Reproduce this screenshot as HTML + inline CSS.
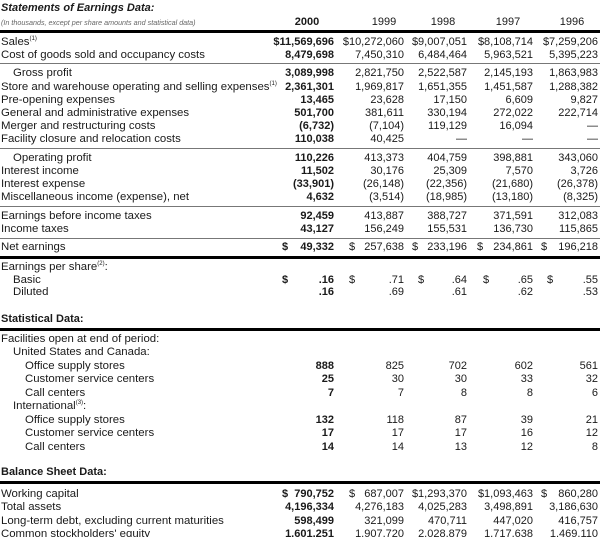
<!DOCTYPE html>
<html><head><meta charset="utf-8">
<style>
html,body{margin:0;padding:0;background:#fff;}
#root{position:relative;width:600px;height:537px;overflow:hidden;font-family:"Liberation Sans",Arial,sans-serif;font-size:11px;color:#1a1a1a;}
.t{position:absolute;line-height:14px;white-space:nowrap;}
.lab{font-size:11.4px;}
.r{text-align:right;}
.b{font-weight:bold;}
.ln{position:absolute;left:0;width:600px;}
.thick{height:3px;background:#000;}
.thin{height:1px;background:#777;}
sup{font-size:6px;vertical-align:5px;line-height:0;}
</style></head>
<body>
<div id="root">
<div class="t b" style="left:1px;top:1px;font-size:11px;font-style:italic;">Statements of Earnings Data:</div>
<div class="t" style="left:1px;top:16px;font-size:7.2px;font-style:italic;color:#666;">(In thousands, except per share amounts and statistical data)</div>
</div>
<script>
const years=["2000","1999","1998","1997","1996"];
const yearCenters=[307,384,443,508,572];
const colRight=[334,404,467,533,598];
const labels=["Sales","Cost of goods sold and occupancy costs","Gross profit","Store and warehouse operating and selling expenses","Pre-opening expenses","General and administrative expenses","Merger and restructuring costs","Facility closure and relocation costs","Operating profit","Interest income","Interest expense","Miscellaneous income (expense), net","Earnings before income taxes","Income taxes","Net earnings","Earnings per share","Basic","Diluted","Facilities open at end of period:","United States and Canada:","Office supply stores","Customer service centers","Call centers","International","Office supply stores","Customer service centers","Call centers","Working capital","Total assets","Long-term debt, excluding current maturities","Common stockholders' equity"];
const sups=["(1)","","","(1)","","","","","","","","","","","","(2)","","","","","","","","(3)","","","","","","",""];
const suffix=["","","","","","","","","","","","","","","",":","","","","","","","",":","","","","","","",""];
const indents=[0,0,12,0,0,0,0,0,12,0,0,0,0,0,0,0,12,12,0,12,24,24,24,12,24,24,24,0,0,0,0];
const rowY=[42,55,73,87,100,113,126,139,158,171,184,197,216,229,247,267,280,292,339,352,366,379,393,406,420,433,447,494,507,521,534];
const v2000=["$11,569,696","8,479,698","3,089,998","2,361,301","13,465","501,700","(6,732)","110,038","110,226","11,502","(33,901)","4,632","92,459","43,127","49,332","",".16",".16","","","888","25","7","","132","17","14","790,752","4,196,334","598,499","1,601,251"];
const v1999=["$10,272,060","7,450,310","2,821,750","1,969,817","23,628","381,611","(7,104)","40,425","413,373","30,176","(26,148)","(3,514)","413,887","156,249","257,638","",".71",".69","","","825","30","7","","118","17","14","687,007","4,276,183","321,099","1,907,720"];
const v1998=["$9,007,051","6,484,464","2,522,587","1,651,355","17,150","330,194","119,129","—","404,759","25,309","(22,356)","(18,985)","388,727","155,531","233,196","",".64",".61","","","702","30","8","","87","17","13","$1,293,370","4,025,283","470,711","2,028,879"];
const v1997=["$8,108,714","5,963,521","2,145,193","1,451,587","6,609","272,022","16,094","—","398,881","7,570","(21,680)","(13,180)","371,591","136,730","234,861","",".65",".62","","","602","33","8","","39","16","12","$1,093,463","3,498,891","447,020","1,717,638"];
const v1996=["$7,259,206","5,395,223","1,863,983","1,288,382","9,827","222,714","—","—","343,060","3,726","(26,378)","(8,325)","312,083","115,865","196,218","",".55",".53","","","561","32","6","","21","12","8","860,280","3,186,630","416,757","1,469,110"];
const series=[v2000,v1999,v1998,v1997,v1996];
const dollarRows=[14,16,27];
const dollarCols=[[0,1,2,3,4],[0,1,2,3,4],[0,1,4]];
const dollarXs=[[282,349,412,477,541],[282,349,418,483,547],[282,349,0,0,541]];
const thinLines=[63,148,206,238];
const thickLines=[30,256,328,481];
const sections=["Statistical Data:","Balance Sheet Data:"];
const sectionY=[319,472];

const root=document.getElementById('root');
function mk(cls,left,top,text){const d=document.createElement('div');d.className=cls;d.style.left=left+'px';d.style.top=top+'px';if(text!==undefined)d.textContent=text;root.appendChild(d);return d;}

years.forEach((y,i)=>{
  const d=mk('t'+(i===0?' b':''),yearCenters[i]-20,15,y);
  d.style.width='40px';d.style.textAlign='center';
  
  
});
thickLines.forEach((y)=>{
  const d=mk('ln thick',0,y);
  
  
});
thinLines.forEach((y)=>{
  const d=mk('ln thin',0,y);
  
  
});
sections.forEach((s,i)=>{
  const d=mk('t b',1,sectionY[i]-7,s);
  
  
});
labels.forEach((lab,i)=>{
  const d=mk('t lab',1+indents[i],rowY[i]-7);
  d.innerHTML=lab+(sups[i]?'<sup>'+sups[i]+'</sup>':'')+suffix[i];
  
  
  series.forEach((arr,c)=>{
    const val=arr[i];
    if(!val)return;
    const e=mk('t r'+(c===0?' b':''),colRight[c]-90,rowY[i]-7,val);
    e.style.width='90px';
    
    
  });
});
dollarRows.forEach((r,k)=>{
  dollarCols[k].forEach(c=>{
    const e=mk('t'+(c===0?' b':''),dollarXs[k][c],rowY[r]-7,'$');
    
    
  });
});
</script>
</body></html>
